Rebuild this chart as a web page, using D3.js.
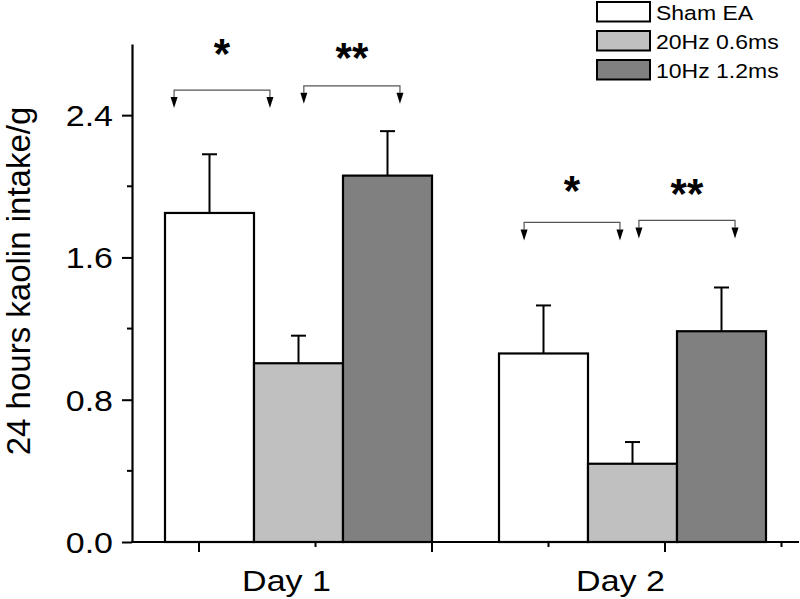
<!DOCTYPE html>
<html><head><meta charset="utf-8">
<script src="https://cdn.jsdelivr.net/npm/d3@7"></script>
<style>
html,body{margin:0;padding:0;background:#fff;}
text{font-family:Arial,"Liberation Sans",sans-serif;fill:#000;}
</style></head>
<body><svg id="c" width="800" height="599"></svg>
<script>
// ---- data ----
const categories = ["Day 1", "Day 2"];
const seriesNames = ["Sham EA", "20Hz 0.6ms", "10Hz 1.2ms"];
const seriesColors = ["#ffffff", "#c0c0c0", "#808080"];
const shamMean = [1.85, 1.06];
const shamErr = [0.33, 0.27];
const hz20Mean = [1.005, 0.44];
const hz20Err = [0.155, 0.122];
const hz10Mean = [2.06, 1.185];
const hz10Err = [0.25, 0.246];
const yTicks = [0, 0.8, 1.6, 2.4];
const yMinorTicks = [0.4, 1.2, 2.0];
const xMajorTicks = [1, 2, 3];
const xMinorTicks = [1.5, 2.5, 3.5];
// significance annotations: group, fractional span in group, bracket level, label level
const sigGroup = ["Day 1", "Day 1", "Day 2", "Day 2"];
const sigFrom = [0.034, 0.52, 0.094, 0.524];
const sigTo = [0.393, 0.88, 0.453, 0.884];
const sigLevel = [2.541, 2.565, 1.797, 1.808];
const sigLabel = ["*", "**", "*", "**"];
const sigLabelLevel = [2.795, 2.77, 2.025, 2.007];

const means = [shamMean, hz20Mean, hz10Mean];
const errs = [shamErr, hz20Err, hz10Err];

// ---- layout ----
const L = 132, R = 799, T = 44, B = 542;
const svg = d3.select("#c");
const y = d3.scaleLinear().domain([0, 2.8]).range([B, T]);
const x = d3.scaleBand().domain(categories).range([L, R]).paddingInner(0.2006).paddingOuter(0.0988);
const xs = d3.scaleBand().domain(seriesNames).range([0, x.bandwidth()]);
const xt = d3.scaleLinear().domain([0.7124, 3.5751]).range([L, R]);

const rows = [];
categories.forEach((c, ci) => seriesNames.forEach((s, si) => rows.push({c, s, si, m: means[si][ci], e: errs[si][ci]})));

// bars
svg.append("g").selectAll("rect").data(rows).join("rect")
  .attr("x", d => x(d.c) + xs(d.s))
  .attr("y", d => y(d.m))
  .attr("width", xs.bandwidth())
  .attr("height", d => y(0) - y(d.m))
  .attr("fill", d => seriesColors[d.si])
  .attr("stroke", "#000").attr("stroke-width", 2.2);

// error bars
const eg = svg.append("g").attr("stroke", "#000").attr("stroke-width", 2);
rows.forEach(d => {
  const cx = x(d.c) + xs(d.s) + xs.bandwidth() / 2;
  eg.append("line").attr("x1", cx).attr("x2", cx).attr("y1", y(d.m)).attr("y2", y(d.m + d.e));
  eg.append("line").attr("x1", cx - 7.5).attr("x2", cx + 7.5).attr("y1", y(d.m + d.e)).attr("y2", y(d.m + d.e));
});

// y axis
const ya = svg.append("g").attr("transform", `translate(${L},0)`)
  .call(d3.axisLeft(y).tickValues(yTicks).tickSize(10).tickSizeOuter(0).tickFormat(d3.format(".1f")));
ya.select(".domain").attr("stroke-width", 2.2);
ya.selectAll(".tick line").attr("stroke-width", 2);
ya.selectAll(".tick text").text(null);
yTicks.forEach(v => {
  svg.append("text").attr("transform", `translate(113,${y(v) + 11}) scale(1,0.88)`)
    .attr("text-anchor", "end").attr("font-size", 34).text(d3.format(".1f")(v));
});
svg.append("g").selectAll("line").data(yMinorTicks).join("line")
  .attr("x1", L - 5).attr("x2", L).attr("y1", d => y(d)).attr("y2", d => y(d))
  .attr("stroke", "#000").attr("stroke-width", 2);

// x axis
svg.append("line").attr("x1", L - 1).attr("x2", R).attr("y1", B).attr("y2", B).attr("stroke", "#000").attr("stroke-width", 2.2);
svg.append("g").selectAll("line").data(xMajorTicks).join("line")
  .attr("x1", d => xt(d)).attr("x2", d => xt(d)).attr("y1", B).attr("y2", B + 10)
  .attr("stroke", "#000").attr("stroke-width", 2);
svg.append("g").selectAll("line").data(xMinorTicks).join("line")
  .attr("x1", d => xt(d)).attr("x2", d => xt(d)).attr("y1", B).attr("y2", B + 5)
  .attr("stroke", "#000").attr("stroke-width", 2);
categories.forEach(c => {
  svg.append("text").attr("transform", `translate(${x(c) + x.bandwidth() / 2 - 12},591) scale(1,0.88)`)
    .attr("text-anchor", "middle").attr("font-size", 34).text(c);
});

// y title
svg.append("text").attr("transform", "translate(30,281) rotate(-90)")
  .attr("text-anchor", "middle").attr("font-size", 33).text("24 hours kaolin intake/g");

// significance brackets
sigGroup.forEach((g, i) => {
  const x1 = x(g) + sigFrom[i] * x.bandwidth();
  const x2 = x(g) + sigTo[i] * x.bandwidth();
  const yy = y(sigLevel[i]);
  const bg = svg.append("g");
  bg.append("path").attr("d", `M${x1},${yy + 7}V${yy}H${x2}V${yy + 7}`)
    .attr("fill", "none").attr("stroke", "#555").attr("stroke-width", 1.2);
  [x1, x2].forEach(ax => {
    bg.append("path").attr("d", `M${ax - 3.5},${yy + 7}L${ax + 3.5},${yy + 7}L${ax},${yy + 18}Z`).attr("fill", "#000");
  });
  svg.append("text").attr("x", (x1 + x2) / 2).attr("y", y(sigLabelLevel[i]) + 23)
    .attr("text-anchor", "middle").attr("font-size", 42).attr("font-weight", "bold").text(sigLabel[i]);
});

// legend
seriesNames.forEach((s, i) => {
  const ly = 2 + i * 29;
  svg.append("rect").attr("x", 597).attr("y", ly).attr("width", 53).attr("height", 19.5)
    .attr("fill", seriesColors[i]).attr("stroke", "#000").attr("stroke-width", 2);
  svg.append("text").attr("transform", `translate(656,${ly + 17.5}) scale(1,0.88)`)
    .attr("font-size", 23).text(s);
});
</script></body></html>
